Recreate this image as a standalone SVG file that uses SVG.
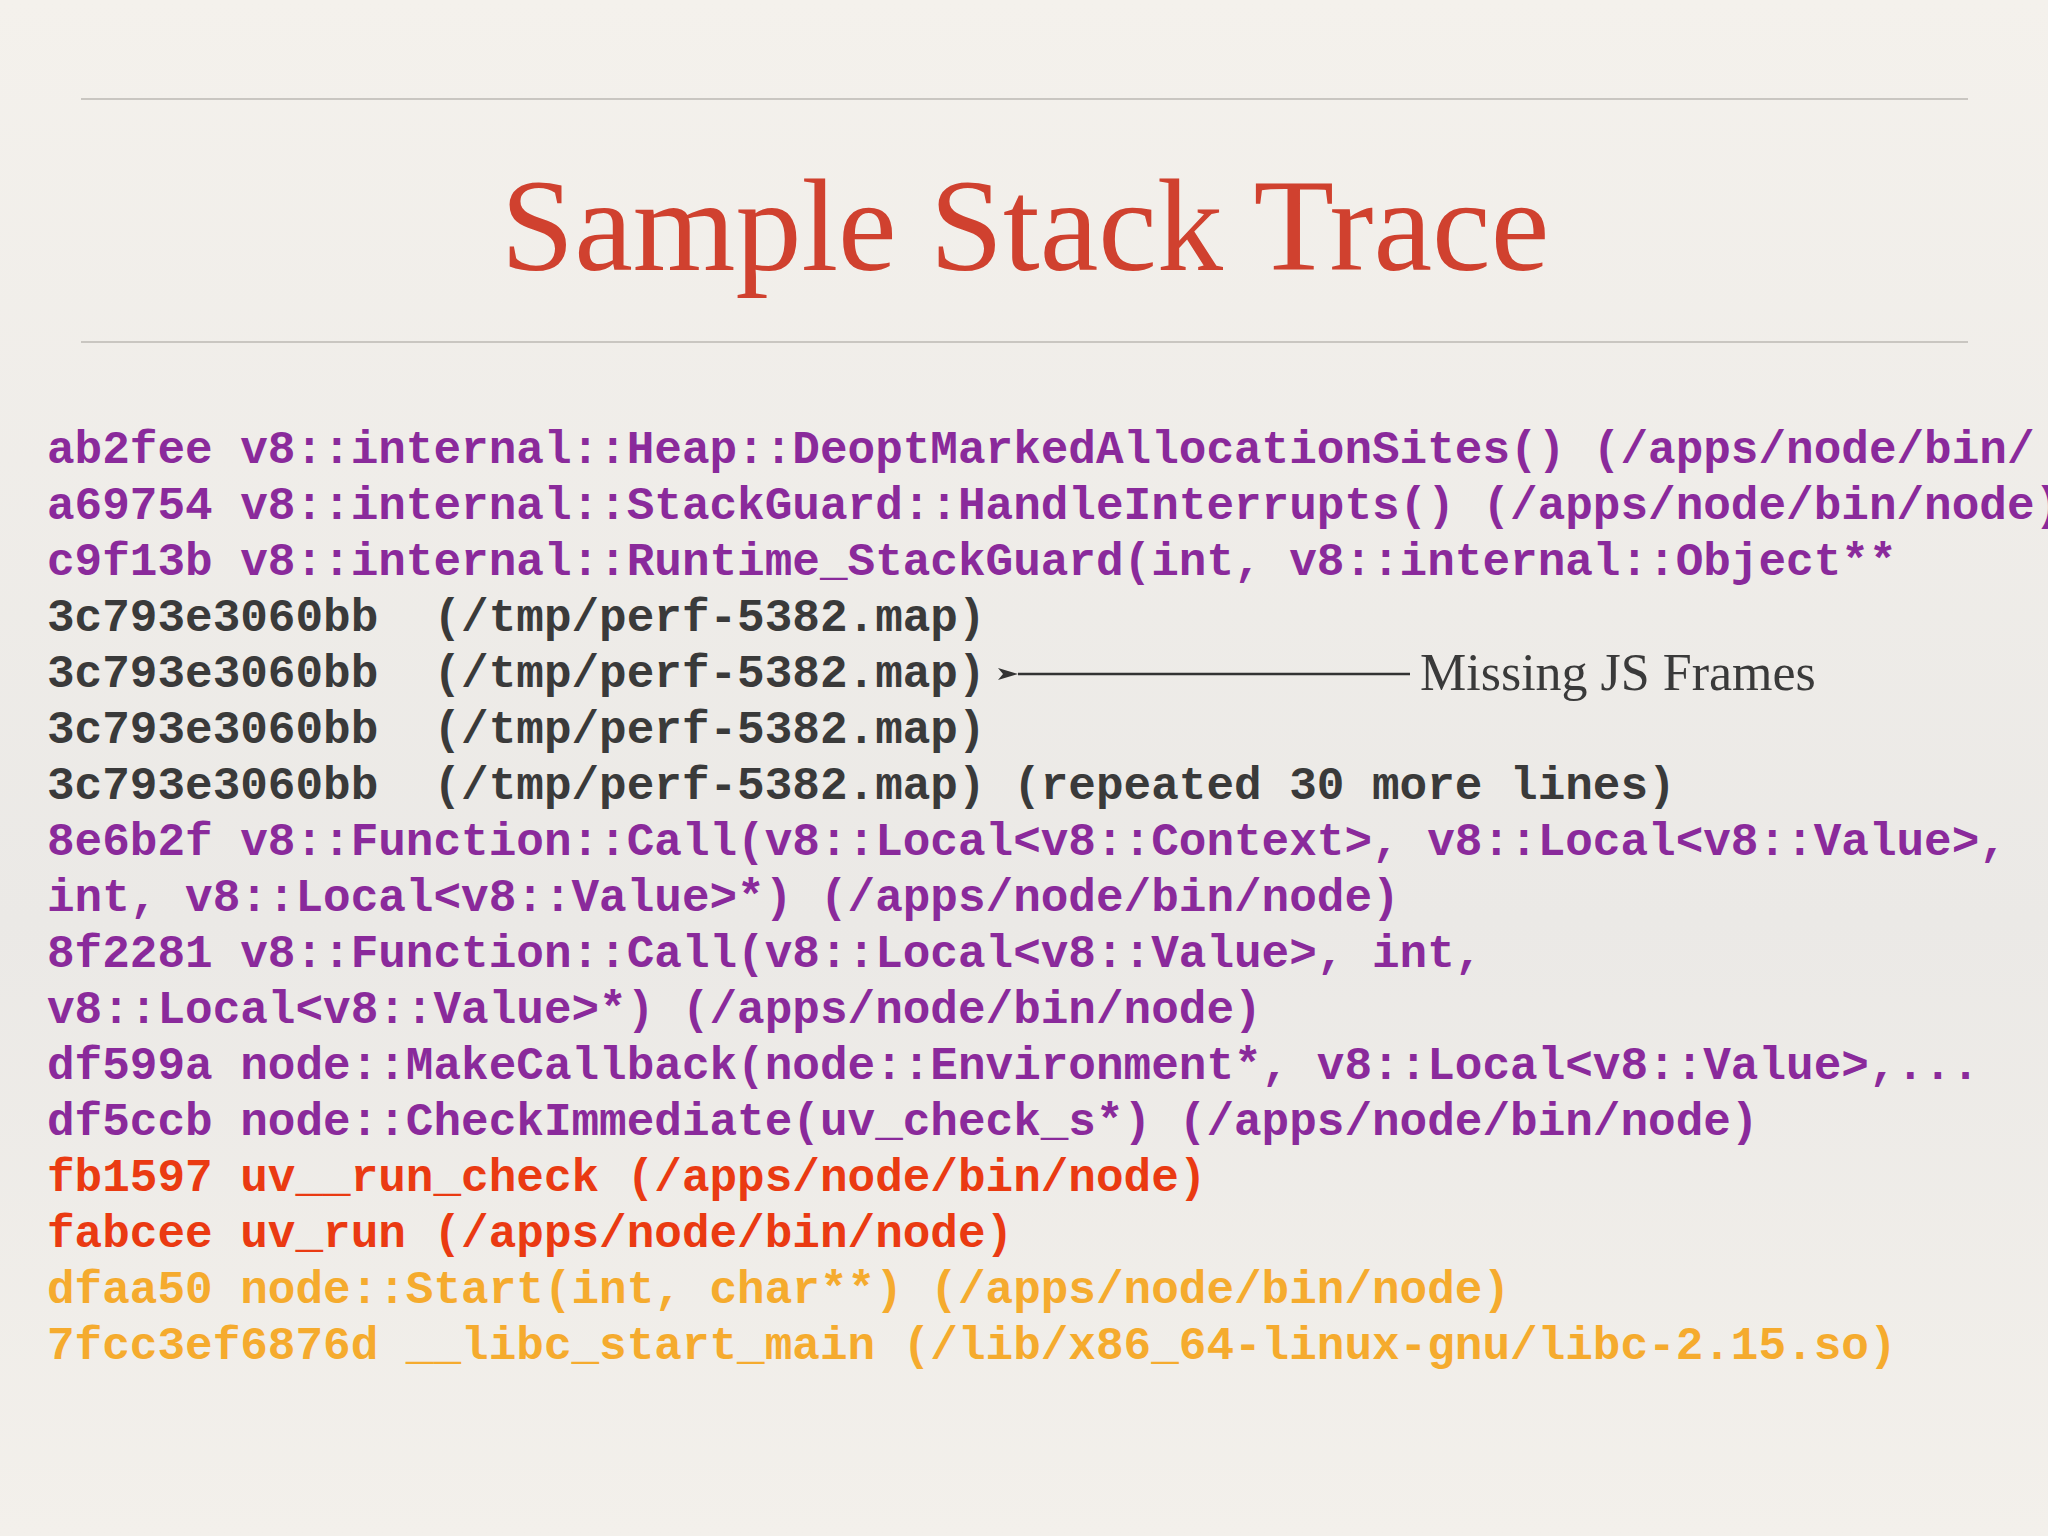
<svg xmlns="http://www.w3.org/2000/svg" width="2048" height="1536" viewBox="0 0 2048 1536">
<defs>
<linearGradient id="bg" x1="0" y1="0" x2="0" y2="1"><stop offset="0" stop-color="#f4f1ec"/><stop offset="0.6" stop-color="#ebe9e6"/><stop offset="1" stop-color="#f3f0eb"/></linearGradient>
<marker id="ah" markerWidth="20" markerHeight="14" refX="0" refY="7" orient="auto" markerUnits="userSpaceOnUse"><path d="M20,1 L0,7 L20,13 L15,7 Z" fill="#333"/></marker>
<style>
.c{font-family:"Liberation Mono","Courier New",monospace;font-weight:bold;font-size:46px;white-space:pre}
.p{fill:#8a2a9b}.g{fill:#3a3a3a}.r{fill:#ea3a12}.o{fill:#f5ab2e}
</style>
</defs>
<rect width="2048" height="1536" fill="url(#bg)"/>
<line x1="81" y1="99" x2="1968" y2="99" stroke="#c9c6c1" stroke-width="2"/>
<line x1="81" y1="342" x2="1968" y2="342" stroke="#c9c6c1" stroke-width="2"/>
<text x="1025" y="270" text-anchor="middle" font-family="Liberation Serif,serif" font-size="132" fill="#d0412f">Sample Stack Trace</text>
<g id="trace">
<text class="c p" x="47" y="463">ab2fee v8::internal::Heap::DeoptMarkedAllocationSites() (/apps/node/bin/</text>
<text class="c p" x="47" y="519">a69754 v8::internal::StackGuard::HandleInterrupts() (/apps/node/bin/node)</text>
<text class="c p" x="47" y="575">c9f13b v8::internal::Runtime_StackGuard(int, v8::internal::Object**</text>
<text class="c g" x="47" y="631">3c793e3060bb  (/tmp/perf-5382.map)</text>
<text class="c g" x="47" y="687">3c793e3060bb  (/tmp/perf-5382.map)</text>
<text class="c g" x="47" y="743">3c793e3060bb  (/tmp/perf-5382.map)</text>
<text class="c g" x="47" y="799">3c793e3060bb  (/tmp/perf-5382.map) (repeated 30 more lines)</text>
<text class="c p" x="47" y="855">8e6b2f v8::Function::Call(v8::Local&lt;v8::Context&gt;, v8::Local&lt;v8::Value&gt;,</text>
<text class="c p" x="47" y="911">int, v8::Local&lt;v8::Value&gt;*) (/apps/node/bin/node)</text>
<text class="c p" x="47" y="967">8f2281 v8::Function::Call(v8::Local&lt;v8::Value&gt;, int,</text>
<text class="c p" x="47" y="1023">v8::Local&lt;v8::Value&gt;*) (/apps/node/bin/node)</text>
<text class="c p" x="47" y="1079">df599a node::MakeCallback(node::Environment*, v8::Local&lt;v8::Value&gt;,...</text>
<text class="c p" x="47" y="1135">df5ccb node::CheckImmediate(uv_check_s*) (/apps/node/bin/node)</text>
<text class="c r" x="47" y="1191">fb1597 uv__run_check (/apps/node/bin/node)</text>
<text class="c r" x="47" y="1247">fabcee uv_run (/apps/node/bin/node)</text>
<text class="c o" x="47" y="1303">dfaa50 node::Start(int, char**) (/apps/node/bin/node)</text>
<text class="c o" x="47" y="1359">7fcc3ef6876d __libc_start_main (/lib/x86_64-linux-gnu/libc-2.15.so)</text>
</g>
<g id="connectors">
<line x1="1410" y1="674" x2="1018" y2="674" stroke="#333" stroke-width="2.5" marker-end="url(#ah)"/>
</g>
<g id="label">
<text x="1420" y="690" font-family="Liberation Serif,serif" font-size="52" fill="#3a3a3a">Missing JS Frames</text>
</g>
</svg>
